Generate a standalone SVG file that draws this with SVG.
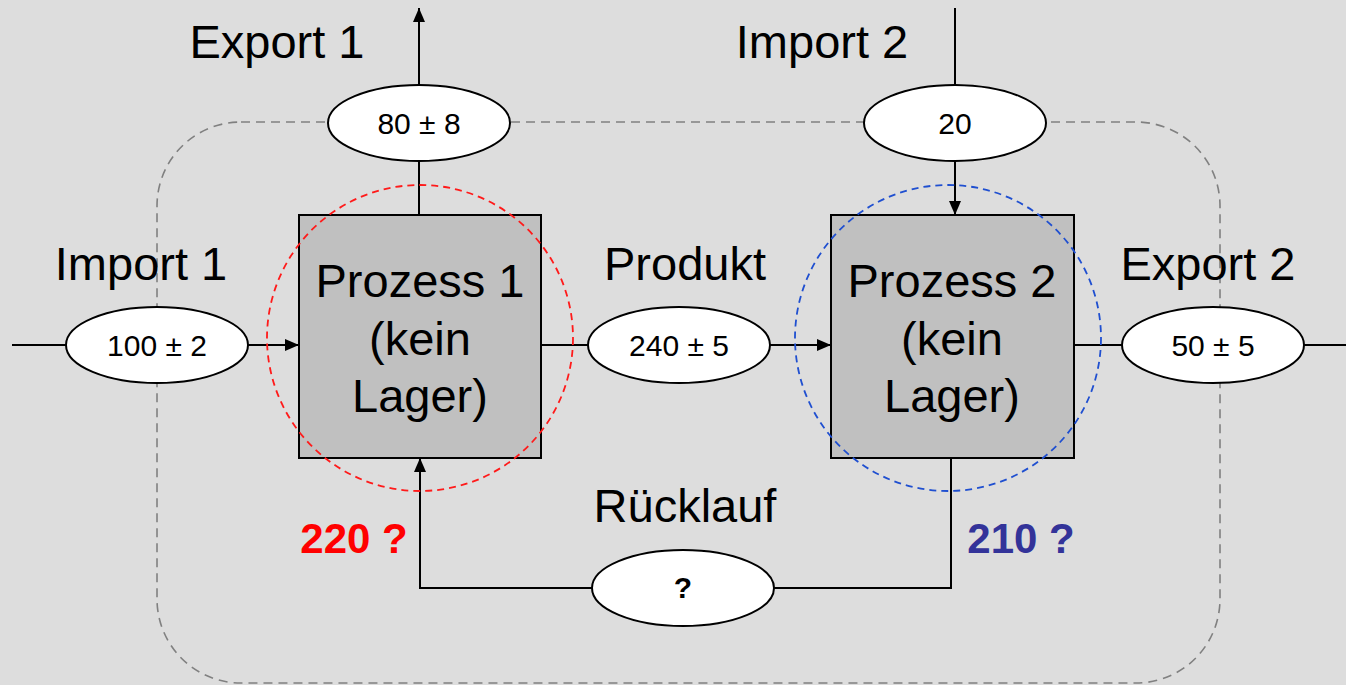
<svg xmlns="http://www.w3.org/2000/svg" width="1346" height="685" viewBox="0 0 1346 685">
  <defs>
    <marker id="arrow" viewBox="0 0 14 12" refX="14" refY="6" markerWidth="14" markerHeight="12" markerUnits="userSpaceOnUse" orient="auto">
      <path d="M0,0 L14,6 L0,12 Z" fill="#000"/>
    </marker>
    <style>
      text { font-family: "Liberation Sans", Arial, sans-serif; fill: #000; }
      .label { font-size: 47px; text-anchor: middle; }
      .proc-text { font-size: 47px; text-anchor: middle; }
      .val { font-size: 30px; text-anchor: middle; }
      .flow { stroke: #000; stroke-width: 2; fill: none; }
      .box { fill: #c0c0c0; stroke: #000; stroke-width: 2; }
      .ell { fill: #fff; stroke: #000; stroke-width: 2; }
      .boundary { fill: none; stroke: #808080; stroke-width: 1.6; stroke-dasharray: 9 6; }
      .balance { fill: none; stroke-width: 1.8; stroke-dasharray: 7 5; }
      .q { font-size: 42px; font-weight: bold; text-anchor: middle; }
    </style>
  </defs>

  <rect width="1346" height="685" fill="#dddddd"/>

  <!-- system boundary -->
  <rect class="boundary" x="157" y="122" width="1063" height="561" rx="84" ry="84"/>

  <!-- connectors -->
  <g id="connectors">
    <line class="flow" x1="12" y1="345" x2="66" y2="345"/>
    <line class="flow" x1="248" y1="345" x2="299" y2="345" marker-end="url(#arrow)"/>
    <line class="flow" x1="541" y1="345" x2="588" y2="345"/>
    <line class="flow" x1="770" y1="345" x2="831" y2="345" marker-end="url(#arrow)"/>
    <line class="flow" x1="1074" y1="345" x2="1122" y2="345"/>
    <line class="flow" x1="1304" y1="345" x2="1346" y2="345"/>
    <line class="flow" x1="419" y1="215" x2="419" y2="161"/>
    <line class="flow" x1="419" y1="85" x2="419" y2="8" marker-end="url(#arrow)"/>
    <line class="flow" x1="955" y1="8" x2="955" y2="85"/>
    <line class="flow" x1="955" y1="161" x2="955" y2="215" marker-end="url(#arrow)"/>
    <polyline class="flow" points="951,458 951,588 774,588"/>
    <polyline class="flow" points="593,588 420,588 420,458" marker-end="url(#arrow)"/>
  </g>

  <!-- processes -->
  <g id="prozess1">
    <rect class="box" x="299" y="215" width="242" height="243"/>
    <text class="proc-text" x="420" y="297">Prozess 1</text>
    <text class="proc-text" x="420" y="355">(kein</text>
    <text class="proc-text" x="420" y="412">Lager)</text>
  </g>
  <g id="prozess2">
    <rect class="box" x="831" y="215" width="243" height="243"/>
    <text class="proc-text" x="952" y="297">Prozess 2</text>
    <text class="proc-text" x="952" y="355">(kein</text>
    <text class="proc-text" x="952" y="412">Lager)</text>
  </g>

  <!-- balance circles -->
  <circle id="bilanz1" class="balance" cx="420" cy="338" r="153" stroke="#ff1a1a"/>
  <circle id="bilanz2" class="balance" cx="948" cy="338" r="153" stroke="#1f4fd0"/>

  <!-- flows -->
  <g id="import1">
    <ellipse class="ell" cx="157" cy="345" rx="91" ry="38"/>
    <text class="val" x="157" y="356">100 ± 2</text>
    <text class="label" x="141" y="280">Import 1</text>
  </g>
  <g id="export1">
    <ellipse class="ell" cx="419" cy="123" rx="91" ry="38"/>
    <text class="val" x="419" y="134">80 ± 8</text>
    <text class="label" x="277" y="58">Export 1</text>
  </g>
  <g id="produkt">
    <ellipse class="ell" cx="679" cy="345" rx="91" ry="38"/>
    <text class="val" x="679" y="356">240 ± 5</text>
    <text class="label" x="685" y="280">Produkt</text>
  </g>
  <g id="import2">
    <ellipse class="ell" cx="955" cy="123" rx="91" ry="38"/>
    <text class="val" x="955" y="134">20</text>
    <text class="label" x="822" y="58">Import 2</text>
  </g>
  <g id="export2">
    <ellipse class="ell" cx="1213" cy="345" rx="91" ry="38"/>
    <text class="val" x="1213" y="356">50 ± 5</text>
    <text class="label" x="1208" y="280">Export 2</text>
  </g>
  <g id="ruecklauf">
    <ellipse class="ell" cx="683" cy="588" rx="91" ry="38"/>
    <text class="val" x="683" y="598" font-weight="bold" font-size="26">?</text>
    <text class="label" x="685" y="522">Rücklauf</text>
  </g>

  <text class="q" x="354" y="553" style="fill:#ff0000">220 ?</text>
  <text class="q" x="1021" y="553" style="fill:#333399">210 ?</text>
</svg>
